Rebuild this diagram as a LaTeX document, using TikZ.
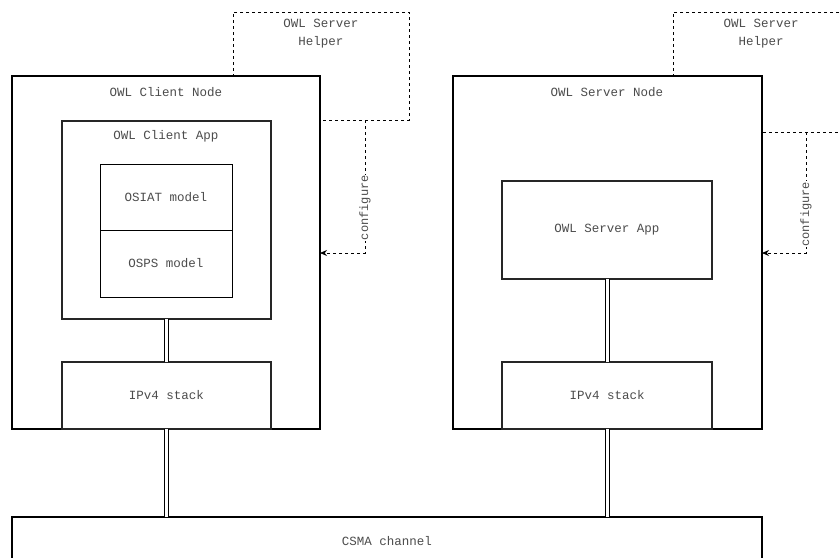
\documentclass[tikz,border=0pt]{standalone}
\usepackage{fontspec}
\setmonofont{Liberation Mono}
\usetikzlibrary{arrows.meta,calc}
\begin{document}
\begin{tikzpicture}[x=1pt,y=-1pt,
  txt/.style={font=\ttfamily\fontsize{12.5}{18}\selectfont, text=black!70},
  box/.style={draw, rectangle, inner sep=0pt, outer sep=0pt, anchor=north west, fill=white, txt},
  nodebox/.style={box, line width=2pt},
  appbox/.style={box, line width=1.2pt, draw=black!85},
  modbox/.style={box, line width=1pt},
  helper/.style={draw, dashed, dash pattern=on 3pt off 3pt, line width=0.9pt, rectangle, inner sep=0pt, outer sep=0pt, anchor=north west},
  cfg/.style={draw, dash pattern=on 3pt off 3pt, line width=0.9pt, -{Stealth[length=7pt,width=6pt]}},
  cfglbl/.style={txt, fill=white, inner sep=0.5pt, rotate=90, font=\ttfamily\fontsize{12}{14}\selectfont},
  dbl/.style={draw, line width=1pt, double, double distance=3pt}
]
\useasboundingbox (0,0) rectangle (840,557);
\clip (0,0) rectangle (840,557);
% helpers
\node[helper, minimum width=176pt, minimum height=108pt] (hl) at (233,12) {};
\node[helper, minimum width=176pt, minimum height=120pt] (hr) at (673,12) {};
\node[txt, align=center] (hlt) at (321,34) {OWL Server\\Helper};
\node[txt, align=center] (hrt) at (761,34) {OWL Server\\Helper};
% nodes
\node[nodebox, minimum width=308pt, minimum height=353pt] (cn) at (12,76) {};
\node[nodebox, minimum width=309pt, minimum height=353pt] (sn) at (453,76) {};
\node[txt] (cnt) at (166,92) {OWL Client Node};
\node[txt] (snt) at (607,92) {OWL Server Node};
% client app
\node[appbox, minimum width=209pt, minimum height=198pt] (ca) at (62,121) {};
\node[txt] (cat) at (166,136) {OWL Client App};
\node[modbox, minimum width=132pt, minimum height=66pt] (osiat) at (100,164) {OSIAT model};
\node[modbox, minimum width=132pt, minimum height=67pt] (osps) at (100,230) {OSPS model};
\node[appbox, minimum width=209pt, minimum height=67pt] (ipl) at (62,362) {IPv4 stack};
% server app
\node[appbox, minimum width=210pt, minimum height=98pt] (sa) at (502,181) {OWL Server App};
\node[appbox, minimum width=210pt, minimum height=67pt] (ipr) at (502,362) {IPv4 stack};
% channel
\node[nodebox, minimum width=750pt, minimum height=48pt] (csma) at (12,517) {CSMA channel};
% double links
\draw[dbl] (ca.south) -- (ipl.north);
\draw[dbl] (sa.south) -- (ipr.north);
\draw[dbl] (ipl.south) -- (ipl.south |- csma.north);
\draw[dbl] (ipr.south) -- (ipr.south |- csma.north);
% configure
\coordinate (cfgl) at (365,120);
\coordinate (cfgr) at (806,132);
\draw[cfg] (cfgl) |- node[cfglbl, pos=0.33] {configure} (cn.east |- 0,253);
\draw[cfg] (cfgr) |- node[cfglbl, pos=0.34] {configure} (sn.east |- 0,253);
\end{tikzpicture}
\end{document}
